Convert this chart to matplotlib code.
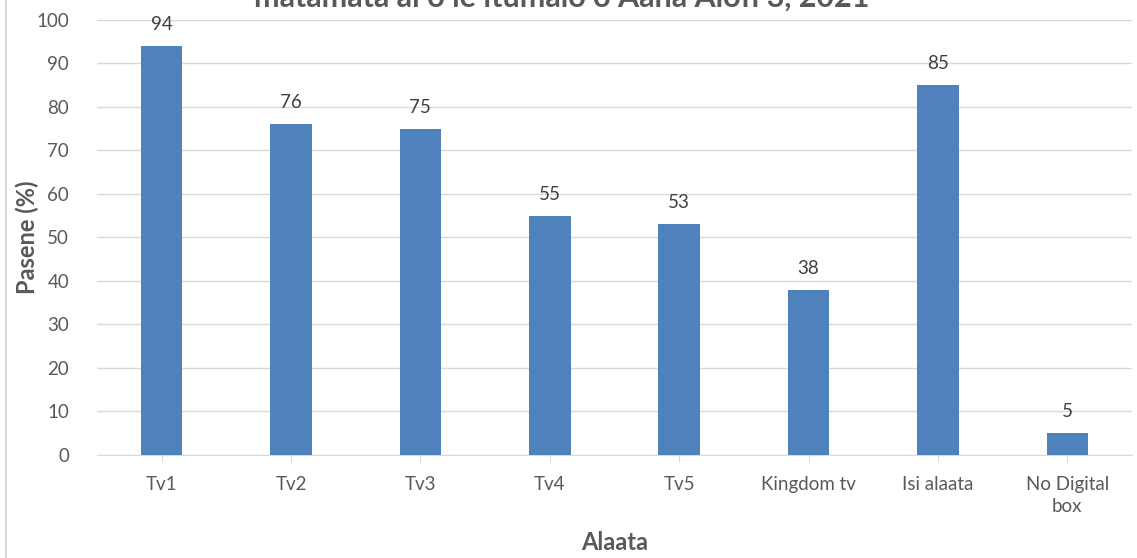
import matplotlib.pyplot as plt
import numpy as np

plt.rcParams['font.family'] = ['Lato', 'DejaVu Sans']

channels = ["Tv1", "Tv2", "Tv3", "Tv4", "Tv5", "Kingdom tv", "Isi alaata", "No Digital\nbox"]
pasene = [94, 76, 75, 55, 53, 38, 85, 5]

fig = plt.figure(figsize=(11.37, 5.58), dpi=100)
ax = fig.add_axes([0.0853, 0.1846, 0.9103, 0.7796])

x = np.arange(len(channels))
ax.bar(x, pasene, width=0.32, color="#4F81BD", zorder=3)

for xi, v in zip(x, pasene):
    ax.text(xi, v + 3, str(v), ha="center", va="bottom", fontsize=13.5, color="#404040")

ax.set_xlim(-0.5, len(channels) - 0.5)
ax.set_ylim(0, 100)
ax.set_yticks(range(0, 101, 10))
ax.set_xticks(x)
ax.set_xticklabels(channels, fontsize=13.5, color="#595959", linespacing=1.35)
ax.tick_params(axis="y", labelsize=13.5, labelcolor="#595959", length=0, pad=20)
ax.tick_params(axis="x", length=5, color="#D9D9D9", pad=10)
ax.grid(axis="y", color="#D9D9D9", linewidth=1, zorder=0)
for s in ["top", "right", "left"]:
    ax.spines[s].set_visible(False)
ax.spines["bottom"].set_color("#D9D9D9")

ax.set_ylabel("Pasene (%)", fontsize=17, fontweight="bold", color="#595959")
ax.yaxis.set_label_coords(-0.056, 0.5)
ax.set_xlabel("Alaata", fontsize=17, fontweight="bold", color="#595959", labelpad=12)

# title is cut off at the top edge, as in the original
fig.text(0.494, 0.988, "matamata ai o le itumalo o Aana Alofi 3, 2021",
         ha="center", va="baseline", fontsize=22, fontweight="bold", color="#595959")

fig.add_artist(plt.Line2D([0.005, 0.005], [0, 1], color="#D9D9D9", linewidth=1.5))

fig.savefig("out.png", dpi=100)
